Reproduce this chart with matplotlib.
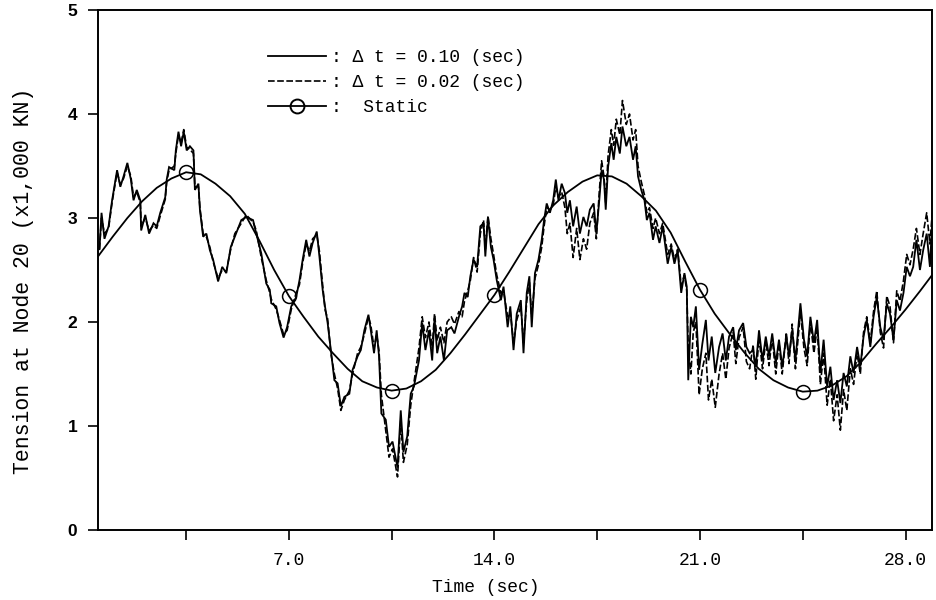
import matplotlib
matplotlib.use("Agg")
import matplotlib.pyplot as plt
from matplotlib.lines import Line2D

# ---------------- data ----------------
t_static = [0.5, 1.0, 1.5, 2.0, 2.5, 3.0, 3.5, 4.0, 4.5, 5.0, 5.5, 6.0, 6.5, 7.0,
            7.5, 8.0, 8.5, 9.0, 9.5, 10.0, 10.5, 11.0, 11.5, 12.0, 12.5, 13.0,
            13.5, 14.0, 14.5, 15.0, 15.5, 16.0, 16.5, 17.0, 17.5, 18.0, 18.5,
            19.0, 19.5, 20.0, 20.5, 21.0, 21.5, 22.0, 22.5, 23.0, 23.5, 24.0,
            24.5, 25.0, 25.5, 26.0, 26.5, 27.0, 27.5, 28.0, 28.5, 28.9]
y_static = [2.63, 2.82, 3.00, 3.16, 3.29, 3.38, 3.44, 3.42, 3.33, 3.21, 3.04, 2.78,
            2.50, 2.25, 2.05, 1.86, 1.70, 1.55, 1.43, 1.37, 1.34, 1.36, 1.43, 1.54,
            1.70, 1.88, 2.07, 2.26, 2.48, 2.71, 2.94, 3.12, 3.25, 3.35, 3.41, 3.40,
            3.33, 3.21, 3.07, 2.86, 2.58, 2.31, 2.08, 1.89, 1.71, 1.55, 1.44, 1.37,
            1.33, 1.34, 1.39, 1.48, 1.62, 1.79, 1.95, 2.12, 2.30, 2.45]
t_static_marks = [3.5, 7.0, 10.5, 14.0, 21.0, 24.5]

t_dyn = [0.55, 0.62, 0.72, 0.86, 0.98, 1.15, 1.26, 1.37, 1.50, 1.62, 1.71, 1.82,
         1.94, 1.97, 2.11, 2.24, 2.39, 2.50, 2.62, 2.79, 2.84, 2.92, 3.10, 3.15,
         3.24, 3.33, 3.42, 3.52, 3.63, 3.75, 3.80, 3.92, 3.97, 4.08, 4.19, 4.31,
         4.42, 4.59, 4.73, 4.87, 5.02, 5.16, 5.38, 5.55, 5.78, 5.89, 6.06, 6.23,
         6.35, 6.40, 6.57, 6.68, 6.82, 6.94, 7.08, 7.25, 7.36, 7.47, 7.59, 7.70,
         7.81, 7.95, 8.04, 8.15, 8.23, 8.32, 8.43, 8.55, 8.66, 8.77, 8.89, 9.06,
         9.17, 9.34, 9.45, 9.57, 9.71, 9.79, 9.90, 9.99, 10.07, 10.15, 10.30, 10.41,
         10.53, 10.70, 10.81, 10.90, 11.03, 11.15, 11.26, 11.43, 11.54, 11.65, 11.77, 11.88,
         11.96, 12.05, 12.16, 12.28, 12.39, 12.53, 12.64, 12.79, 12.90, 12.98, 13.09, 13.18,
         13.29, 13.41, 13.52, 13.63, 13.69, 13.78, 13.88, 13.97, 14.08, 14.22, 14.31, 14.45,
         14.54, 14.65, 14.76, 14.90, 14.99, 15.10, 15.19, 15.27, 15.38, 15.50, 15.61, 15.69,
         15.78, 15.89, 16.00, 16.09, 16.18, 16.29, 16.40, 16.48, 16.57, 16.68, 16.80, 16.91,
         17.03, 17.14, 17.25, 17.38, 17.47, 17.57, 17.65, 17.73, 17.79, 17.87, 17.98, 18.06,
         18.15, 18.27, 18.36, 18.49, 18.60, 18.72, 18.81, 18.89, 19.00, 19.11, 19.19, 19.28,
         19.40, 19.49, 19.62, 19.73, 19.90, 20.02, 20.13, 20.24, 20.36, 20.47, 20.55, 20.60,
         20.69, 20.77, 20.86, 20.97, 21.08, 21.20, 21.29, 21.40, 21.52, 21.65, 21.77, 21.88,
         21.99, 22.13, 22.22, 22.33, 22.47, 22.58, 22.69, 22.81, 22.90, 23.01, 23.13, 23.24,
         23.35, 23.46, 23.58, 23.69, 23.80, 23.94, 24.03, 24.14, 24.25, 24.42, 24.54, 24.65,
         24.76, 24.88, 24.99, 25.10, 25.21, 25.33, 25.44, 25.55, 25.67, 25.78, 25.89, 26.00,
         26.12, 26.23, 26.35, 26.46, 26.57, 26.68, 26.80, 26.91, 27.02, 27.14, 27.25, 27.36,
         27.47, 27.59, 27.70, 27.81, 27.93, 28.04, 28.15, 28.26, 28.37, 28.49, 28.60, 28.72,
         28.83, 28.91]

y_dt010 = [2.70, 3.05, 2.80, 2.92, 3.17, 3.46, 3.30, 3.40, 3.53, 3.37, 3.17, 3.27,
           3.17, 2.88, 3.03, 2.85, 2.95, 2.92, 3.05, 3.20, 3.37, 3.49, 3.46, 3.65,
           3.83, 3.69, 3.83, 3.65, 3.69, 3.65, 3.27, 3.33, 3.08, 2.82, 2.85, 2.69,
           2.60, 2.39, 2.53, 2.47, 2.72, 2.82, 2.98, 3.01, 2.98, 2.85, 2.66, 2.37,
           2.31, 2.18, 2.15, 1.99, 1.85, 1.95, 2.15, 2.24, 2.40, 2.60, 2.79, 2.63,
           2.76, 2.87, 2.63, 2.31, 2.15, 1.99, 1.73, 1.44, 1.41, 1.19, 1.28, 1.31,
           1.54, 1.67, 1.73, 1.92, 2.07, 1.92, 1.70, 1.92, 1.67, 1.12, 1.06, 0.80,
           0.85, 0.60, 1.15, 0.75, 0.90, 1.31, 1.38, 1.63, 1.99, 1.73, 1.92, 1.63,
           2.04, 1.70, 1.86, 1.63, 1.92, 1.95, 1.89, 2.05, 2.15, 2.28, 2.24, 2.44,
           2.60, 2.53, 2.92, 2.95, 2.63, 3.01, 2.72, 2.60, 2.40, 2.21, 2.34, 1.95,
           2.15, 1.73, 2.08, 2.21, 1.70, 2.28, 2.44, 1.95, 2.47, 2.60, 2.79, 2.98,
           3.14, 3.05, 3.17, 3.37, 3.17, 3.33, 3.24, 3.05, 3.17, 2.92, 3.11, 2.85,
           3.01, 2.92, 3.08, 3.14, 2.85, 3.17, 3.46, 3.37, 3.08, 3.49, 3.72, 3.56,
           3.78, 3.62, 3.88, 3.69, 3.78, 3.56, 3.69, 3.40, 3.27, 3.17, 2.98, 3.05,
           2.79, 2.92, 2.76, 2.92, 2.56, 2.72, 2.56, 2.69, 2.28, 2.47, 2.34, 1.44,
           2.05, 1.95, 2.15, 1.54, 1.79, 2.02, 1.63, 1.86, 1.51, 1.76, 1.89, 1.63,
           1.86, 1.95, 1.73, 1.92, 1.99, 1.76, 1.70, 1.73, 1.57, 1.92, 1.63, 1.86,
           1.67, 1.89, 1.60, 1.83, 1.57, 1.86, 1.67, 1.92, 1.63, 2.18, 1.83, 1.67,
           2.05, 1.80, 2.02, 1.51, 1.83, 1.38, 1.57, 1.25, 1.44, 1.22, 1.51, 1.38,
           1.67, 1.51, 1.76, 1.57, 1.86, 2.02, 1.76, 2.05, 2.24, 1.95, 1.83, 2.18,
           2.08, 1.83, 2.21, 2.11, 2.28, 2.53, 2.44, 2.53, 2.79, 2.50, 2.69, 2.85,
           2.53, 2.98]

y_dt002 = [2.70, 3.00, 2.85, 2.90, 3.15, 3.44, 3.32, 3.38, 3.50, 3.40, 3.20, 3.25,
           3.15, 2.92, 3.00, 2.88, 2.93, 2.90, 3.02, 3.18, 3.35, 3.46, 3.50, 3.62,
           3.80, 3.72, 3.85, 3.68, 3.66, 3.62, 3.30, 3.30, 3.10, 2.85, 2.82, 2.72,
           2.58, 2.42, 2.50, 2.49, 2.70, 2.85, 2.95, 3.03, 2.96, 2.88, 2.62, 2.40,
           2.28, 2.22, 2.12, 2.02, 1.88, 1.92, 2.12, 2.28, 2.36, 2.57, 2.75, 2.68,
           2.80, 2.84, 2.68, 2.35, 2.12, 2.03, 1.70, 1.50, 1.36, 1.15, 1.25, 1.34,
           1.50, 1.70, 1.76, 1.88, 2.05, 1.97, 1.75, 1.88, 1.72, 1.30, 0.95, 0.70,
           0.78, 0.51, 1.05, 0.65, 0.82, 1.20, 1.42, 1.75, 2.05, 1.85, 2.00, 1.75,
           2.08, 1.82, 1.95, 1.80, 2.00, 2.05, 1.98, 2.10, 2.05, 2.20, 2.30, 2.40,
           2.62, 2.48, 2.85, 2.98, 2.70, 3.02, 2.80, 2.65, 2.45, 2.28, 2.30, 2.05,
           2.10, 1.80, 2.02, 2.15, 1.80, 2.20, 2.38, 2.05, 2.42, 2.55, 2.72, 2.92,
           3.10, 3.08, 3.12, 3.30, 3.20, 3.25, 3.10, 2.85, 2.95, 2.62, 2.90, 2.60,
           2.80, 2.70, 2.95, 3.05, 2.80, 3.25, 3.55, 3.40, 3.15, 3.60, 3.85, 3.70,
           3.95, 3.80, 4.13, 3.90, 4.00, 3.75, 3.85, 3.50, 3.35, 3.22, 3.05, 3.10,
           2.90, 3.00, 2.85, 2.95, 2.65, 2.75, 2.60, 2.70, 2.35, 2.45, 2.30, 1.75,
           1.50, 1.90, 2.00, 1.30, 1.55, 1.70, 1.25, 1.45, 1.18, 1.50, 1.70, 1.45,
           1.75, 1.90, 1.60, 1.85, 1.95, 1.62, 1.55, 1.78, 1.45, 1.85, 1.55, 1.82,
           1.58, 1.85, 1.50, 1.80, 1.50, 1.90, 1.60, 1.98, 1.55, 2.10, 1.75, 1.58,
           2.00, 1.70, 1.95, 1.40, 1.70, 1.20, 1.45, 1.05, 1.30, 0.96, 1.35, 1.15,
           1.55, 1.40, 1.70, 1.50, 1.90, 2.05, 1.80, 2.10, 2.30, 1.90, 1.75, 2.25,
           2.15, 1.80, 2.30, 2.20, 2.40, 2.65, 2.55, 2.70, 2.90, 2.65, 2.85, 3.05,
           2.75, 3.05]

x_major = [7.0, 14.0, 21.0, 28.0]
x_minor = [3.5, 10.5, 17.5, 24.5]
y_ticks = [0, 1, 2, 3, 4, 5]

leg_labels = [": \u0394 t = 0.10 (sec)", ": \u0394 t = 0.02 (sec)", ":  Static"]

# ---------------- figure ----------------
mono = "Liberation Mono"
fig = plt.figure(figsize=(9.36, 6.0), dpi=100)
ax = fig.add_axes([0.1047, 0.1167, 0.8910, 0.8666])

ax.plot(t_dyn, y_dt010, color="black", lw=1.3, solid_joinstyle="miter")
ax.plot(t_dyn, y_dt002, color="black", lw=1.2, linestyle=(0, (4, 1.5)))
mark_idx = [t_static.index(v) for v in t_static_marks]
ax.plot(t_static, y_static, color="black", lw=1.3, marker="o", markersize=10,
        markerfacecolor="none", markeredgewidth=1.1, markevery=mark_idx)

ax.set_xlim(0.5, 28.9)
ax.set_ylim(0, 5)

ax.set_xticks(x_major)
ax.set_xticklabels([f"{v:.1f}" for v in x_major], fontfamily=mono, fontsize=13)
ax.set_xticks(x_minor, minor=True)
ax.set_yticks(y_ticks)
ax.set_yticklabels([str(v) for v in y_ticks], fontfamily="Liberation Sans",
                   fontweight="bold", fontsize=12.5)
ax.tick_params(axis="x", which="both", direction="out", length=7, width=1.2, pad=9)
ax.tick_params(axis="y", direction="out", length=7, width=1.2, pad=8)

for s in ax.spines.values():
    s.set_linewidth(1.4)

ax.set_xlabel("Time (sec)", fontfamily=mono, fontsize=13)
ax.xaxis.set_label_coords(0.465, -0.094)
ax.set_ylabel("Tension at Node 20 (x1,000 KN)", fontfamily=mono, fontsize=15.5)
ax.yaxis.set_label_coords(-0.077, 0.48)

handles = [
    Line2D([], [], color="black", lw=1.3),
    Line2D([], [], color="black", lw=1.2, linestyle=(0, (4, 1.5))),
    Line2D([], [], color="black", lw=1.3, marker="o", markersize=10,
           markerfacecolor="none", markeredgewidth=1.4),
]
leg = ax.legend(handles, leg_labels, loc="upper left",
                bbox_to_anchor=(0.204, 0.925), frameon=False,
                prop={"family": mono, "size": 13}, handlelength=3.2,
                handletextpad=0.3, labelspacing=0.45, borderpad=0,
                borderaxespad=0)

fig.savefig("out.png", dpi=100)
